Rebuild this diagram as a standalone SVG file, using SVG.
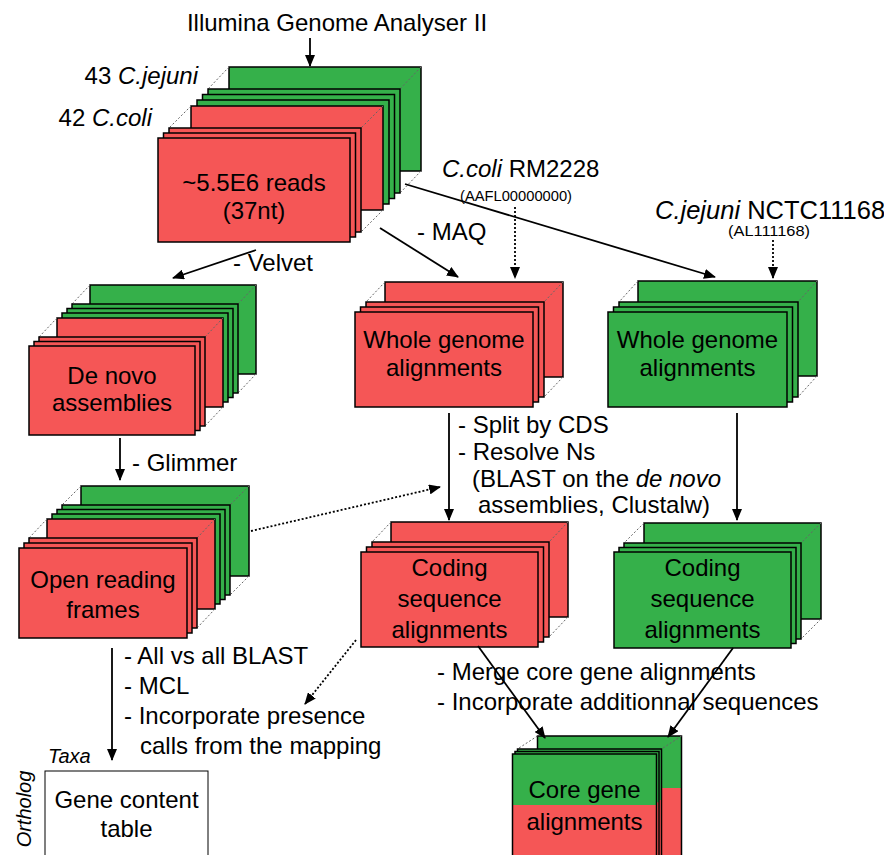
<svg xmlns="http://www.w3.org/2000/svg" width="884" height="855" viewBox="0 0 884 855">
<defs>
<style>
.t{font-family:"Liberation Sans",Arial,sans-serif;font-size:24px;fill:#000}
.s{font-size:15.5px}
.m{text-anchor:middle}
.i{font-style:italic}
.r{fill:#f55656;stroke:#000;stroke-width:1.5}
.g{fill:#35b04a;stroke:#000;stroke-width:1.5}
.rf{fill:#f55656}
.gf{fill:#35b04a}
.o{fill:none;stroke:#000;stroke-width:1.5}
.h{stroke:#666;stroke-width:1;stroke-dasharray:2 2;fill:none}
.a{stroke:#000;stroke-width:1.8;fill:none;marker-end:url(#ah)}
.d{stroke:#000;stroke-width:1.8;stroke-dasharray:2 2;fill:none;marker-end:url(#ah)}
</style>
<marker id="ah" markerWidth="12" markerHeight="10" refX="11" refY="5" orient="auto" markerUnits="userSpaceOnUse">
<path d="M0,0 L12,5 L0,10 Z" fill="#000"/>
</marker>
</defs>
<rect width="884" height="855" fill="#fff"/>

<g id="labels">
<text class="t m" x="337" y="31">Illumina Genome Analyser II</text>
<text class="t" x="198" y="84" text-anchor="end">43 <tspan class="i">C.jejuni</tspan></text>
<text class="t" x="152" y="126" text-anchor="end">42 <tspan class="i">C.coli</tspan></text>
<text class="t" x="442" y="177"><tspan class="i">C.coli</tspan> RM2228</text>
<text class="t s" x="460" y="201" textLength="112" lengthAdjust="spacingAndGlyphs">(AAFL00000000)</text>
<text class="t" x="655" y="219" style="font-size:25.5px"><tspan class="i">C.jejuni</tspan> NCTC11168</text>
<text class="t s" x="728" y="236" textLength="82" lengthAdjust="spacingAndGlyphs">(AL111168)</text>
<text class="t" x="417" y="240">- MAQ</text>
<text class="t" x="233" y="271">- Velvet</text>
<text class="t" x="132" y="471">- Glimmer</text>
<text class="t" x="458" y="433">- Split by CDS</text>
<text class="t" x="458" y="460">- Resolve Ns</text>
<text class="t" x="472" y="487">(BLAST on the <tspan class="i">de novo</tspan></text>
<text class="t" x="478" y="513">assemblies, Clustalw)</text>
<text class="t" x="124" y="664">- All vs all BLAST</text>
<text class="t" x="124" y="694">- MCL</text>
<text class="t" x="124" y="724">- Incorporate presence</text>
<text class="t" x="140" y="754">calls from the mapping</text>
<text class="t" x="437" y="680">- Merge core gene alignments</text>
<text class="t" x="437" y="710">- Incorporate additionnal sequences</text>
<text class="t i" x="48" y="763" style="font-size:20px">Taxa</text>
<text class="t i m" transform="translate(31,809) rotate(-90)" style="font-size:20px">Ortholog</text>
</g>

<g id="reads">
<rect class="g" x="229" y="67" width="192" height="104"/>
<path class="h" d="M229,67 L208,89 M421,67 L400,89 M421,171 L400,193"/>
<rect class="g" x="208" y="89" width="192" height="104"/>
<rect class="g" x="202.5" y="94.5" width="192" height="104"/>
<rect class="g" x="197" y="100" width="192" height="104"/>
<rect class="r" x="191" y="106" width="192" height="104"/>
<path class="h" d="M191,106 L169,128 M383,106 L361,128 M383,210 L361,232"/>
<rect class="r" x="169" y="128" width="192" height="104"/>
<rect class="r" x="163.5" y="133" width="192" height="104"/>
<rect class="r" x="158" y="138" width="192" height="104"/>
<text class="t m" x="254" y="191">~5.5E6 reads</text>
<text class="t m" x="254" y="219">(37nt)</text>
</g>

<g id="denovo">
<rect class="g" x="90" y="285" width="166" height="89"/>
<path class="h" d="M90,285 L72,304 M256,285 L238,304 M256,374 L238,393"/>
<rect class="g" x="72" y="304" width="166" height="89"/>
<rect class="g" x="67" y="308.5" width="166" height="89"/>
<rect class="g" x="62" y="313" width="166" height="89"/>
<rect class="r" x="57" y="318" width="166" height="89"/>
<path class="h" d="M57,318 L39,337 M223,318 L205,337 M223,407 L205,426"/>
<rect class="r" x="39" y="337" width="166" height="89"/>
<rect class="r" x="34" y="341.5" width="166" height="89"/>
<rect class="r" x="29" y="346" width="166" height="89"/>
<text class="t m" x="112" y="384">De novo</text>
<text class="t m" x="112" y="411">assemblies</text>
</g>

<g id="wg_coli">
<rect class="r" x="385" y="282" width="178" height="95"/>
<path class="h" d="M385,282 L366,302 M563,282 L544,302 M563,377 L544,397"/>
<rect class="r" x="366" y="302" width="178" height="95"/>
<rect class="r" x="360.5" y="307" width="178" height="95"/>
<rect class="r" x="355" y="312" width="178" height="95"/>
<text class="t m" x="444" y="348">Whole genome</text>
<text class="t m" x="444" y="376">alignments</text>
</g>

<g id="wg_jejuni">
<rect class="g" x="638" y="281" width="179" height="95"/>
<path class="h" d="M638,281 L619,302 M817,281 L798,302 M817,376 L798,397"/>
<rect class="g" x="619" y="302" width="179" height="95"/>
<rect class="g" x="613.5" y="307" width="179" height="95"/>
<rect class="g" x="608" y="312" width="179" height="95"/>
<text class="t m" x="697.5" y="348">Whole genome</text>
<text class="t m" x="697.5" y="376">alignments</text>
</g>

<g id="orf">
<rect class="g" x="81" y="486" width="168" height="90"/>
<path class="h" d="M81,486 L62,505 M249,486 L230,505 M249,576 L230,595"/>
<rect class="g" x="62" y="505" width="168" height="90"/>
<rect class="g" x="57" y="509.5" width="168" height="90"/>
<rect class="g" x="52" y="514" width="168" height="90"/>
<rect class="r" x="47" y="519" width="168" height="90"/>
<path class="h" d="M47,519 L29,538 M215,519 L197,538 M215,609 L197,628"/>
<rect class="r" x="29" y="538" width="168" height="90"/>
<rect class="r" x="24" y="543" width="168" height="90"/>
<rect class="r" x="19" y="548" width="168" height="90"/>
<text class="t m" x="103" y="588">Open reading</text>
<text class="t m" x="103" y="618">frames</text>
</g>

<g id="cds_coli">
<rect class="r" x="391" y="522" width="177" height="95"/>
<path class="h" d="M391,522 L372,542 M568,522 L549,542 M568,617 L549,637"/>
<rect class="r" x="372" y="542" width="177" height="95"/>
<rect class="r" x="366.5" y="547" width="177" height="95"/>
<rect class="r" x="361" y="552" width="177" height="95"/>
<text class="t m" x="449.5" y="576">Coding</text>
<text class="t m" x="449.5" y="607">sequence</text>
<text class="t m" x="449.5" y="638">alignments</text>
</g>

<g id="cds_jejuni">
<rect class="g" x="644" y="523" width="177" height="96"/>
<path class="h" d="M644,523 L624,543 M821,523 L801,543 M821,619 L801,639"/>
<rect class="g" x="624" y="543" width="177" height="96"/>
<rect class="g" x="619" y="547.5" width="177" height="96"/>
<rect class="g" x="614" y="552" width="177" height="96"/>
<text class="t m" x="702.5" y="576">Coding</text>
<text class="t m" x="702.5" y="607">sequence</text>
<text class="t m" x="702.5" y="638">alignments</text>
</g>

<g id="core">
<rect class="gf" x="537.5" y="736" width="144" height="52"/>
<rect class="rf" x="537.5" y="788" width="144" height="90"/>
<rect class="o" x="537.5" y="736" width="144" height="142"/>
<path class="h" d="M537.5,736 L517.5,749 M681.5,736 L661.5,749"/>
<rect class="gf" x="517.5" y="749" width="144" height="51"/>
<rect class="rf" x="517.5" y="800" width="144" height="80"/>
<rect class="o" x="517.5" y="749" width="144" height="131"/>
<rect class="gf" x="515" y="751.5" width="144" height="51"/>
<rect class="rf" x="515" y="802.5" width="144" height="80"/>
<rect class="o" x="515" y="751.5" width="144" height="131"/>
<rect class="gf" x="512.5" y="754" width="144" height="51"/>
<rect class="rf" x="512.5" y="805" width="144" height="80"/>
<rect class="o" x="512.5" y="754" width="144" height="131"/>
<text class="t m" x="584.5" y="798">Core gene</text>
<text class="t m" x="584.5" y="830">alignments</text>
</g>

<g id="gene_table">
<rect x="45" y="771" width="163" height="100" fill="#fff" stroke="#000" stroke-width="1"/>
<text class="t m" x="126.5" y="808">Gene content</text>
<text class="t m" x="126.5" y="837">table</text>
</g>

<g id="connectors">
<line class="a" x1="310" y1="38" x2="310" y2="66"/>
<line class="a" x1="256" y1="250" x2="173" y2="278"/>
<line class="a" x1="380" y1="228" x2="458" y2="277"/>
<line class="a" x1="405" y1="184" x2="715" y2="277"/>
<line class="d" x1="515" y1="207" x2="515" y2="278"/>
<line class="d" x1="773" y1="240" x2="773" y2="278"/>
<line class="a" x1="120" y1="438" x2="120" y2="480"/>
<line class="a" x1="449" y1="413" x2="449" y2="520"/>
<line class="a" x1="737" y1="413" x2="737" y2="520"/>
<line class="d" x1="251" y1="531" x2="440" y2="487"/>
<line class="d" x1="356" y1="640" x2="305" y2="704"/>
<line class="a" x1="112" y1="648" x2="112" y2="760"/>
<line class="a" x1="478" y1="646" x2="545" y2="738"/>
<line class="a" x1="733" y1="648" x2="668" y2="737"/>
</g>
</svg>
